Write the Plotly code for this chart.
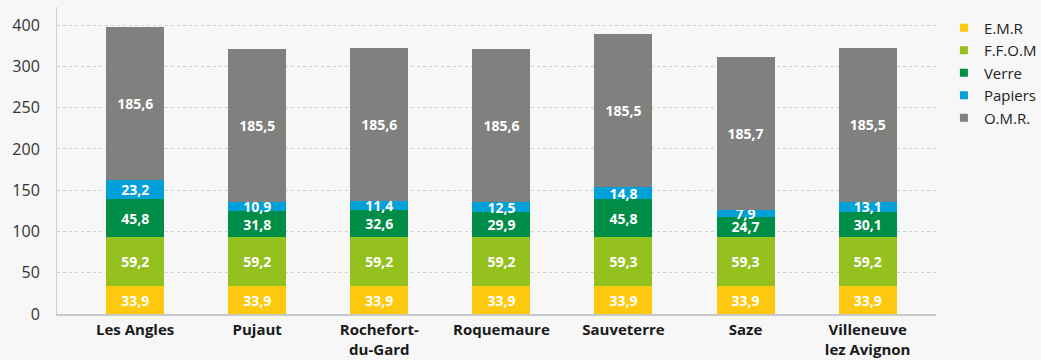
import plotly.graph_objects as go

communes = ["Les Angles", "Pujaut", "Rochefort-<br>du-Gard", "Roquemaure",
            "Sauveterre", "Saze", "Villeneuve<br>lez Avignon"]

emr = [33.9, 33.9, 33.9, 33.9, 33.9, 33.9, 33.9]
ffom = [59.2, 59.2, 59.2, 59.2, 59.3, 59.3, 59.2]
verre = [45.8, 31.8, 32.6, 29.9, 45.8, 24.7, 30.1]
papiers = [23.2, 10.9, 11.4, 12.5, 14.8, 7.9, 13.1]
omr = [185.6, 185.5, 185.6, 185.6, 185.5, 185.7, 185.5]

y_tickvals = [0, 50, 100, 150, 200, 250, 300, 350]
y_ticktext = ["0", "50", "100", "150", "200", "250", "300", "400"]

series = [
    ("E.M.R", emr, "#fdc90f"),
    ("F.F.O.M", ffom, "#95c11f"),
    ("Verre", verre, "#008d47"),
    ("Papiers", papiers, "#00a0d9"),
    ("O.M.R.", omr, "#80807e"),
]

FONT = "Open Sans"

fig = go.Figure()
for name, vals, color in series:
    fig.add_trace(go.Bar(
        name=name,
        x=communes,
        y=vals,
        marker=dict(color=color, line=dict(width=0)),
        width=0.475,
        text=[f"{v:.1f}".replace(".", ",") for v in vals],
        textposition="inside",
        insidetextanchor="middle",
        textfont=dict(family=FONT, size=14, color="white", weight="bold"),
        hoverinfo="skip",
        showlegend=False,
        legendgroup=name,
    ))

# small square swatches for the legend
for name, vals, color in series:
    fig.add_trace(go.Scatter(
        name=name,
        x=[None], y=[None],
        mode="markers",
        marker=dict(symbol="square", size=8, color=color),
        showlegend=True,
        legendgroup=name,
        hoverinfo="skip",
    ))

fig.update_layout(
    barmode="stack",
    width=1041,
    height=360,
    margin=dict(l=57, r=105, t=7, b=46, autoexpand=False),
    paper_bgcolor="#f7f7f7",
    plot_bgcolor="#f7f7f7",
    font=dict(family=FONT, color="#222222"),
    uniformtext=dict(minsize=14, mode="show"),
    showlegend=True,
    legend=dict(
        x=1.009, xanchor="left", y=0.985, yanchor="top",
        traceorder="normal",
        font=dict(family=FONT, size=15, color="#222222"),
        itemwidth=30,
        tracegroupgap=3,
        bgcolor="rgba(0,0,0,0)",
    ),
    xaxis=dict(
        type="category",
        range=[-0.64, 6.56],
        showgrid=False,
        showline=True,
        linecolor="#c8c8c8",
        linewidth=2,
        ticks="",
        ticklabelstandoff=1,
        tickfont=dict(family=FONT, size=15, color="#1a1a1a", weight="bold"),
        fixedrange=True,
    ),
    yaxis=dict(
        range=[0, 372],
        tickvals=y_tickvals,
        ticktext=y_ticktext,
        showgrid=True,
        gridcolor="#d0d0d0",
        griddash="dot",
        gridwidth=1,
        showline=True,
        linecolor="#d0d0d0",
        linewidth=1,
        zeroline=False,
        ticks="",
        ticklabelstandoff=13,
        tickfont=dict(family=FONT, size=16, color="#333333"),
        fixedrange=True,
    ),
)

fig.write_html("out.html")
